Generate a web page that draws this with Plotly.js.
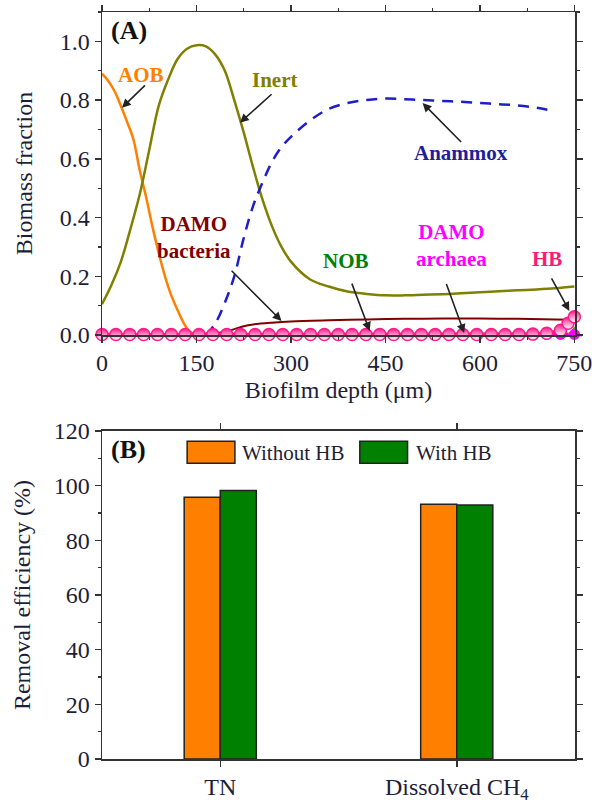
<!DOCTYPE html>
<html>
<head>
<meta charset="utf-8">
<script src="https://cdn.plot.ly/plotly-3.0.1.min.js"></script>
<style>html,body{margin:0;padding:0;background:#fff;}#chart{width:592px;height:805px;}</style>
</head>
<body>
<div id="chart"></div>
<script>
// ---------- Panel A data: biomass fraction vs biofilm depth ----------
var aobDepth   = [0, 10, 20, 30, 40, 50, 60, 70, 80, 90, 100, 110, 120, 130, 140, 150, 300, 450, 600, 750];
var aobFrac    = [0.89, 0.865, 0.83, 0.78, 0.725, 0.665, 0.56, 0.47, 0.37, 0.28, 0.20, 0.135, 0.085, 0.04, 0.01, 0.0, 0.0, 0.0, 0.0, 0.0];

var inertDepth = [0, 15, 30, 45, 60, 75, 90, 105, 120, 135, 150, 165, 180, 195, 210, 225, 240, 255, 270, 285, 300, 330, 360, 390, 420, 450, 480, 510, 540, 570, 600, 630, 660, 690, 720, 750];
var inertFrac  = [0.105, 0.17, 0.25, 0.36, 0.48, 0.63, 0.78, 0.87, 0.94, 0.975, 0.987, 0.983, 0.955, 0.90, 0.80, 0.69, 0.57, 0.46, 0.37, 0.30, 0.25, 0.19, 0.165, 0.148, 0.14, 0.135, 0.135, 0.137, 0.139, 0.142, 0.146, 0.149, 0.152, 0.155, 0.159, 0.165];

var anaDepth   = [165, 180, 195, 210, 225, 240, 255, 270, 285, 300, 330, 360, 390, 420, 450, 480, 510, 540, 570, 600, 630, 660, 690, 720];
var anaFrac    = [0.0, 0.04, 0.11, 0.20, 0.33, 0.44, 0.52, 0.59, 0.64, 0.675, 0.73, 0.77, 0.79, 0.80, 0.805, 0.803, 0.80, 0.797, 0.794, 0.79, 0.786, 0.782, 0.774, 0.762];

var dbDepth    = [0, 150, 180, 195, 210, 225, 240, 270, 300, 360, 420, 480, 540, 600, 660, 720, 750];
var dbFrac     = [0.004, 0.004, 0.006, 0.01, 0.02, 0.03, 0.036, 0.042, 0.046, 0.05, 0.053, 0.055, 0.056, 0.056, 0.055, 0.053, 0.052];

var gridDepth  = [0, 22, 44, 66, 88, 110, 132, 154, 176, 198, 220, 243, 265, 287, 309, 331, 353, 375, 397, 419, 441, 463, 485, 507, 529, 551, 573, 595, 618, 640, 662, 684, 706, 728, 750];
var nobFrac    = [0.004, 0.004, 0.004, 0.004, 0.004, 0.004, 0.004, 0.004, 0.004, 0.004, 0.004, 0.004, 0.004, 0.004, 0.004, 0.004, 0.004, 0.004, 0.004, 0.004, 0.004, 0.004, 0.004, 0.004, 0.004, 0.004, 0.004, 0.004, 0.004, 0.004, 0.004, 0.004, 0.004, 0.004, 0.006];
var archFrac   = [0.002, 0.002, 0.002, 0.002, 0.002, 0.002, 0.002, 0.002, 0.002, 0.002, 0.002, 0.002, 0.002, 0.002, 0.002, 0.002, 0.002, 0.002, 0.002, 0.002, 0.002, 0.002, 0.002, 0.002, 0.002, 0.002, 0.002, 0.002, 0.002, 0.002, 0.002, 0.002, 0.002, 0.002, 0.002];
var hbDepth    = [0, 22, 44, 66, 88, 110, 132, 154, 176, 198, 220, 243, 265, 287, 309, 331, 353, 375, 397, 419, 441, 463, 485, 507, 529, 551, 573, 595, 618, 640, 662, 684, 706, 728, 740, 750];
var hbFrac     = [0.002, 0.002, 0.002, 0.002, 0.002, 0.002, 0.002, 0.002, 0.002, 0.002, 0.002, 0.002, 0.002, 0.002, 0.002, 0.002, 0.002, 0.002, 0.002, 0.002, 0.002, 0.002, 0.002, 0.002, 0.002, 0.002, 0.002, 0.002, 0.002, 0.002, 0.002, 0.003, 0.006, 0.016, 0.04, 0.062];

var depthTicks = [0, 150, 300, 450, 600, 750];

// ---------- Panel B data: removal efficiency ----------
var removalCats   = ['TN', 'Dissolved CH<sub>4</sub>'];
var withoutHB     = [95.8, 93.2];
var withHB        = [98.2, 92.9];
var seriesNames   = ['Without HB', 'With HB'];

var SERIF = "Liberation Serif";
var TXT = '#1e1e38';

// NOB marker sizes: small tips along the bottom, larger triangle at the outer end
var nobSizes = nobFrac.map(function (v, i) { return i === nobFrac.length - 1 ? 15 : 7; });

var traces = [
  {x: aobDepth, y: aobFrac, type: 'scatter', mode: 'lines', line: {color: '#ff8000', width: 2.5, shape: 'spline'}, xaxis: 'x', yaxis: 'y', showlegend: false},
  {x: inertDepth, y: inertFrac, type: 'scatter', mode: 'lines', line: {color: '#808000', width: 2.5, shape: 'spline'}, xaxis: 'x', yaxis: 'y', showlegend: false},
  {x: anaDepth, y: anaFrac, type: 'scatter', mode: 'lines', line: {color: '#1f1fc8', width: 2.5, dash: '11px,8px', shape: 'spline'}, xaxis: 'x', yaxis: 'y', showlegend: false},
  {x: dbDepth, y: dbFrac, type: 'scatter', mode: 'lines', line: {color: '#800000', width: 2, shape: 'spline'}, xaxis: 'x', yaxis: 'y', showlegend: false},
  {x: gridDepth, y: nobFrac, type: 'scatter', mode: 'lines+markers', line: {color: '#008000', width: 1.5}, marker: {symbol: 'triangle-up', size: nobSizes, color: '#008000'}, xaxis: 'x', yaxis: 'y', showlegend: false, cliponaxis: false},
  {x: gridDepth, y: archFrac, type: 'scatter', mode: 'lines+markers', line: {color: '#ff00ff', width: 2}, marker: {symbol: 'circle', size: 11, color: '#ff00ff'}, xaxis: 'x', yaxis: 'y', showlegend: false, cliponaxis: false},
  {x: hbDepth, y: hbFrac, type: 'scatter', mode: 'lines+markers', line: {color: '#ff1a8c', width: 3}, marker: {symbol: 'circle', size: 12, color: '#ff1a8c', gradient: {type: 'vertical', color: '#ffffff'}, line: {color: '#ff1a8c', width: 1.5}}, xaxis: 'x', yaxis: 'y', showlegend: false, cliponaxis: false},
  {x: removalCats, y: withoutHB, type: 'bar', name: seriesNames[0], marker: {color: '#ff8000', line: {color: '#222', width: 1.5}}, xaxis: 'x2', yaxis: 'y2', showlegend: false},
  {x: removalCats, y: withHB, type: 'bar', name: seriesNames[1], marker: {color: '#008000', line: {color: '#222', width: 1.5}}, xaxis: 'x2', yaxis: 'y2', showlegend: false}
];

function arrow(hx, hy, tx, ty) {
  return {x: hx, y: hy, ax: tx, ay: ty, xref: 'x', yref: 'y', axref: 'x', ayref: 'y', text: ' ', showarrow: true,
          arrowhead: 2, arrowsize: 1.1, arrowwidth: 1.6, arrowcolor: '#222'};
}
function label(x, y, text, color) {
  return {x: x, y: y, xref: 'x', yref: 'y', text: '<b>' + text + '</b>', showarrow: false,
          font: {family: SERIF, size: 21, color: color}, xanchor: 'center', yanchor: 'middle'};
}

var annotations = [
  label(62, 0.887, 'AOB', '#ff8000'),
  arrow(31.7, 0.774, 73, 0.86),
  label(274, 0.87, 'Inert', '#808000'),
  arrow(219, 0.723, 274, 0.829),
  label(570, 0.62, 'Anammox', '#1f1f9c'),
  arrow(509, 0.79, 575, 0.647),
  label(146, 0.333, 'DAMO<br>bacteria', '#800000'),
  arrow(285, 0.048, 201, 0.229),
  label(388, 0.253, 'NOB', '#008000'),
  arrow(425, 0.014, 392, 0.202),
  label(555, 0.305, 'DAMO<br>archaea', '#ff00ff'),
  arrow(575, 0.007, 542, 0.202),
  label(707, 0.26, 'HB', '#ff1a75'),
  arrow(742, 0.082, 709, 0.212),
  {xref: 'x domain', yref: 'y domain', x: 0.015, y: 0.995, xanchor: 'left', yanchor: 'top', showarrow: false,
   text: '<b>(A)</b>', font: {family: SERIF, size: 26, color: '#111'}},
  {xref: 'x2 domain', yref: 'y2 domain', x: 0.015, y: 0.995, xanchor: 'left', yanchor: 'top', showarrow: false,
   text: '<b>(B)</b>', font: {family: SERIF, size: 26, color: '#111'}},
  {xref: 'x2 domain', yref: 'y2 domain', x: 0.292, y: 0.934, xanchor: 'left', yanchor: 'middle', showarrow: false,
   text: seriesNames[0], font: {family: SERIF, size: 21, color: TXT}},
  {xref: 'x2 domain', yref: 'y2 domain', x: 0.659, y: 0.934, xanchor: 'left', yanchor: 'middle', showarrow: false,
   text: seriesNames[1], font: {family: SERIF, size: 21, color: TXT}}
];

var shapes = [
  {type: 'rect', xref: 'x2 domain', yref: 'y2 domain', x0: 0.18, x1: 0.281, y0: 0.902, y1: 0.969, fillcolor: '#ff8000', line: {color: '#222', width: 1.5}},
  {type: 'rect', xref: 'x2 domain', yref: 'y2 domain', x0: 0.545, x1: 0.646, y0: 0.902, y1: 0.969, fillcolor: '#008000', line: {color: '#222', width: 1.5}}
];

var axisCommon = {
  showline: true, linecolor: '#333', linewidth: 1.5, mirror: 'allticks',
  ticks: 'outside', ticklen: 6, tickwidth: 1.5, tickcolor: '#333',
  showgrid: false, zeroline: false, ticklabeloverflow: 'allow',
  tickfont: {family: SERIF, size: 24, color: TXT}
};

var layout = {
  width: 592, height: 805,
  margin: {l: 102, r: 17, t: 12, b: 46},
  paper_bgcolor: '#fff', plot_bgcolor: '#fff',
  font: {family: SERIF, color: TXT},
  showlegend: false,
  barmode: 'group', bargap: 0.695, bargroupgap: 0,
  xaxis: Object.assign({}, axisCommon, {
    domain: [0, 1], anchor: 'y', range: [0, 751], tickvals: depthTicks, ticktext: depthTicks.map(String),
    minor: {dtick: 75, tick0: 0, ticks: 'outside', ticklen: 3, tickcolor: '#333', tickwidth: 1.2},
    title: {text: 'Biofilm depth (\u03bcm)', font: {family: SERIF, size: 24, color: TXT}, standoff: 6}
  }),
  yaxis: Object.assign({}, axisCommon, {
    domain: [0.5676, 1], anchor: 'x', range: [0, 1.1], dtick: 0.2, tick0: 0, tickformat: '.1f',
    minor: {dtick: 0.1, tick0: 0, ticks: 'outside', ticklen: 3, tickcolor: '#333', tickwidth: 1.2},
    title: {text: 'Biomass fraction', font: {family: SERIF, size: 24, color: TXT}, standoff: 20}
  }),
  xaxis2: Object.assign({}, axisCommon, {
    domain: [0, 1], anchor: 'y2', type: 'category', range: [-0.5, 1.5]
  }),
  yaxis2: Object.assign({}, axisCommon, {
    domain: [0, 0.4391], anchor: 'x2', range: [0, 120], dtick: 20, tick0: 0,
    minor: {dtick: 10, tick0: 0, ticks: 'outside', ticklen: 3, tickcolor: '#333', tickwidth: 1.2},
    title: {text: 'Removal efficiency (%)', font: {family: SERIF, size: 24, color: TXT}, standoff: 16}
  }),
  annotations: annotations,
  shapes: shapes
};

Plotly.newPlot('chart', traces, layout, {displayModeBar: false, staticPlot: true});
</script>
</body>
</html>
